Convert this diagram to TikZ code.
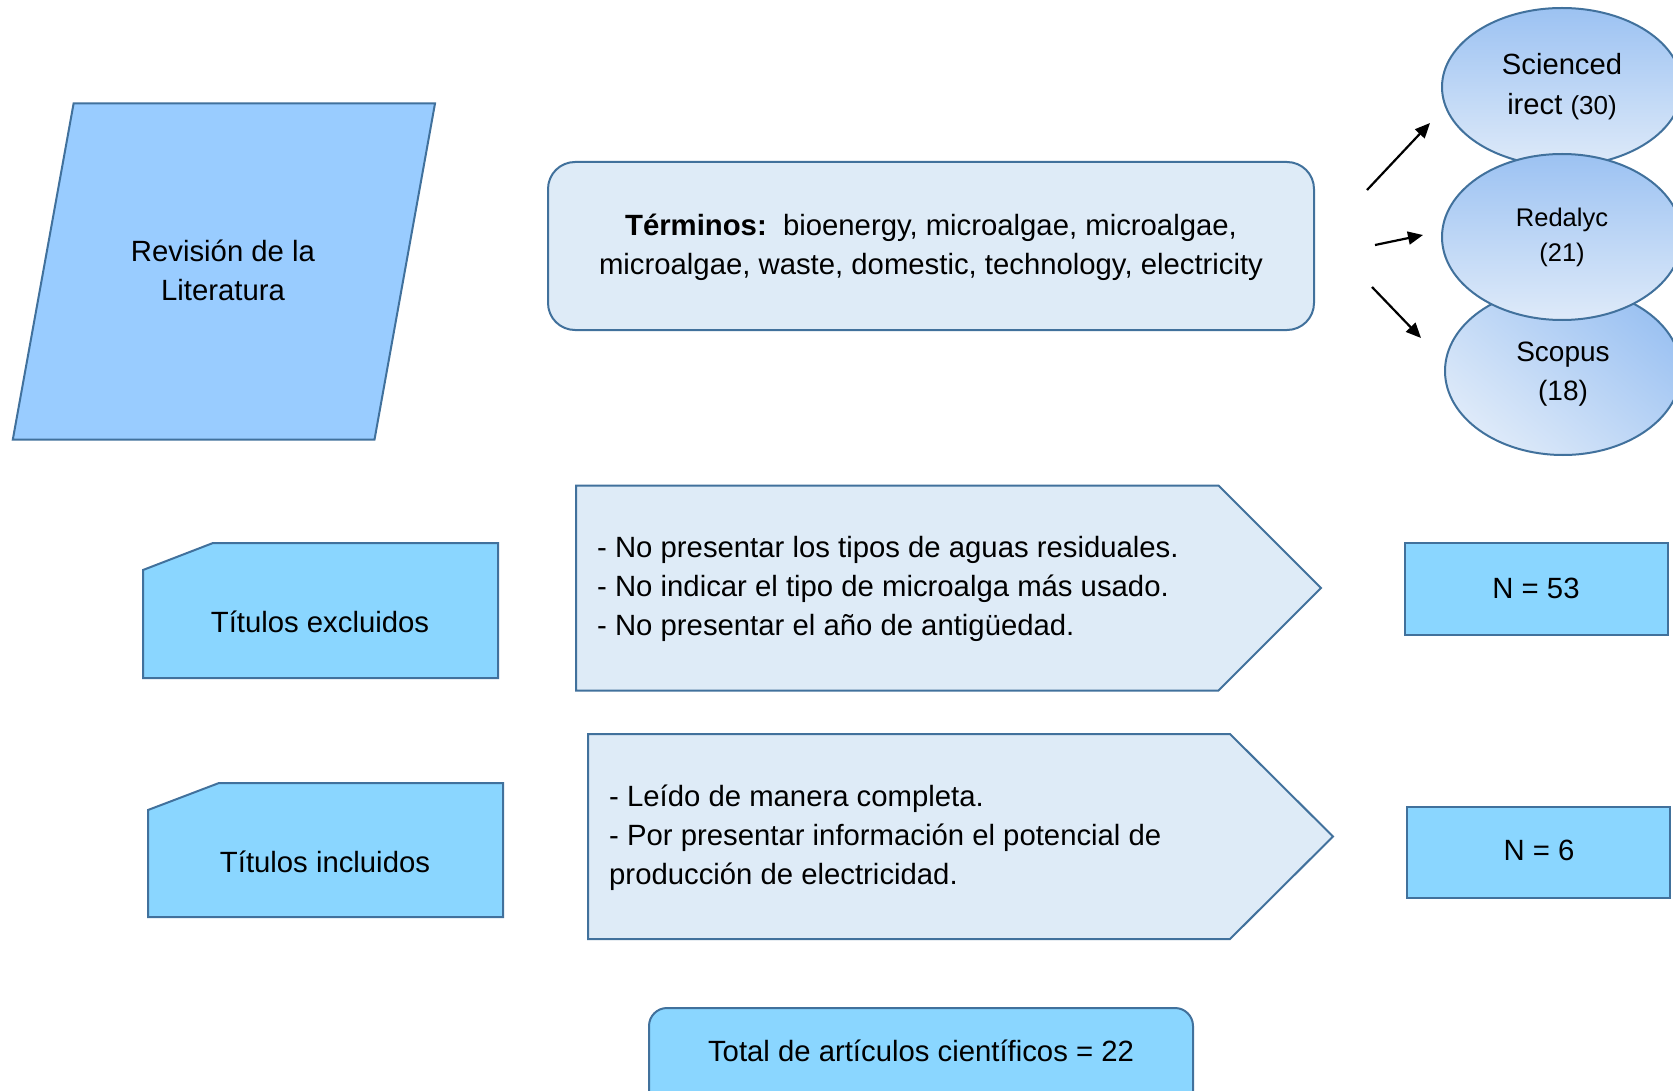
\documentclass[tikz,border=0pt]{standalone}
\usepackage{fontspec}
\setmainfont{Liberation Sans}
\usetikzlibrary{shapes.geometric,arrows.meta}
\definecolor{bordc}{HTML}{41719C}
\definecolor{parafill}{HTML}{99CCFF}
\definecolor{titfill}{HTML}{8AD6FF}
\definecolor{palefill}{HTML}{DEEBF7}
\definecolor{elltop}{HTML}{9CC2F2}
\definecolor{ellbot}{HTML}{DEEAF9}
\begin{document}
\begin{tikzpicture}[x=1pt,y=-1pt,
  shapeline/.style={draw=bordc,line width=2pt,line join=miter},
  txt/.style={font=\fontsize{29.3}{39}\selectfont,inner sep=0pt,text=black},
  arr/.style={line width=2.2pt,-{Triangle[length=15pt,width=13pt]}},
  ellnode/.style={ellipse,draw=bordc,line width=2pt,top color=elltop,bottom color=ellbot,inner sep=0pt,align=center,text=black}]
\clip (0,0) rectangle (1673,1091);
\fill[white] (0,0) rectangle (1673,1091);

% Revision de la literatura
\draw[shapeline,fill=parafill] (73.6,103.5) -- (435,103.5) -- (374.5,439.6) -- (12.8,439.6) -- cycle;
\node[txt,align=center] (rev) at (223,270) {Revisión de la\\Literatura};

% Terminos
\draw[shapeline,fill=palefill,rounded corners=27] (548,162) rectangle (1314,330);
\node[txt,align=center] (terms) at (931,247) {\textbf{Términos:}\ \ bioenergy, microalgae, microalgae,\\microalgae, waste, domestic, technology, electricity};

% Databases
\node[ellnode,minimum width=236,minimum height=168,shading angle=-40] (scop) at (1563,371) {};
\node[inner sep=0pt,align=center,font=\fontsize{28}{39}\selectfont] (scoptxt) at (1563,374) {Scopus\\(18)};
\node[ellnode,minimum width=240,minimum height=158,font=\fontsize{29.2}{40}\selectfont] (sci) at (1562,87) {Scienced\\irect {\fontsize{26}{40}\selectfont(30)}};
\node[ellnode,minimum width=240,minimum height=166,font=\fontsize{25.5}{35}\selectfont] (red) at (1562,237) {Redalyc\\(21)};

\coordinate (a1s) at (1367,190); \coordinate (a1e) at (1430,123);
\coordinate (a2s) at (1375,245); \coordinate (a2e) at (1423,235);
\coordinate (a3s) at (1372,287); \coordinate (a3e) at (1421,338);
\draw[arr] (a1s) -- (a1e);
\draw[arr] (a2s) -- (a2e);
\draw[arr] (a3s) -- (a3e);

% Titulos
\draw[shapeline,fill=titfill] (143,570) -- (213,543) -- (498,543) -- (498,678) -- (143,678) -- cycle;
\node[txt] (exc) at (320,622) {Títulos excluidos};
\draw[shapeline,fill=titfill] (148,810) -- (219,783) -- (503,783) -- (503,917) -- (148,917) -- cycle;
\node[txt] (inc) at (325,862) {Títulos incluidos};

% Criteria
\draw[shapeline,fill=palefill] (576,485.5) -- (1218.5,485.5) -- (1321,588) -- (1218.5,690.5) -- (576,690.5) -- cycle;
\node[txt,align=left,anchor=west] (crit1) at (597,589) {- No presentar los tipos de aguas residuales.\\- No indicar el tipo de microalga más usado.\\- No presentar el año de antigüedad.};
\draw[shapeline,fill=palefill] (588,734) -- (1230,734) -- (1333,836.5) -- (1230,939) -- (588,939) -- cycle;
\node[txt,align=left,anchor=west] (crit2) at (609,837.5) {- Leído de manera completa.\\- Por presentar información el potencial de\\producción de electricidad.};

% Counts
\draw[shapeline,fill=titfill] (1405,543) rectangle (1668,635);
\node[txt] (n53) at (1536,588) {N = 53};
\draw[shapeline,fill=titfill] (1407,807) rectangle (1670,898);
\node[txt] (n6) at (1539,850) {N = 6};

% Total
\draw[shapeline,fill=titfill,rounded corners=18] (649,1008) rectangle (1193,1130);
\node[txt] (tot) at (921,1051) {Total de artículos científicos = 22};
\end{tikzpicture}
\end{document}
